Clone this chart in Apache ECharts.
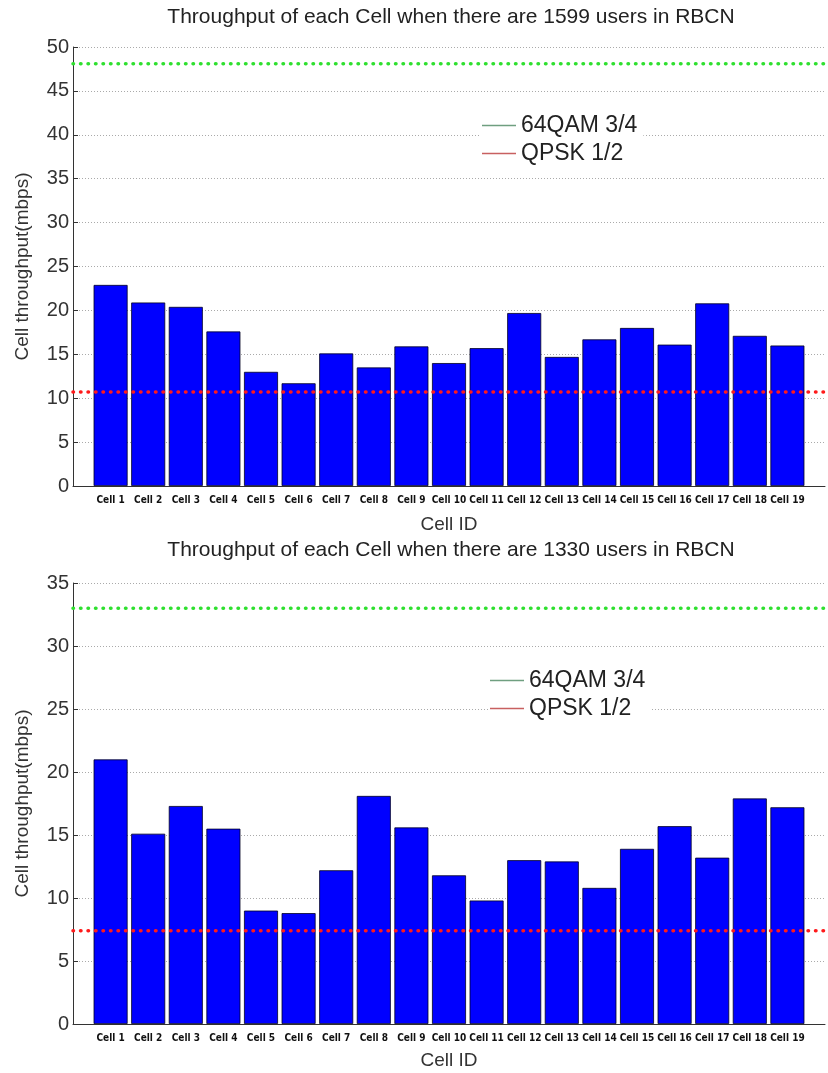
<!DOCTYPE html>
<html>
<head>
<meta charset="utf-8">
<script src="https://cdn.jsdelivr.net/npm/echarts@6/dist/echarts.min.js"></script>
<style>
html,body{margin:0;padding:0;background:#fff;}
#chart{width:828px;height:1073px;}
</style>
</head>
<body>
<div id="chart"></div>
<script>
const categories = ['Cell 1','Cell 2','Cell 3','Cell 4','Cell 5','Cell 6','Cell 7','Cell 8','Cell 9','Cell 10','Cell 11','Cell 12','Cell 13','Cell 14','Cell 15','Cell 16','Cell 17','Cell 18','Cell 19'];
const throughput1599 = [22.9,20.9,20.4,17.6,13.0,11.7,15.1,13.5,15.9,14.0,15.7,19.7,14.7,16.7,18.0,16.1,20.8,17.1,16.0];
const throughput1330 = [21.0,15.1,17.3,15.5,9.0,8.8,12.2,18.1,15.6,11.8,9.8,13.0,12.9,10.8,13.9,15.7,13.2,17.9,17.2];
const qam64Level = [48.1, 33.0];
const qpskLevel = [10.7, 7.4];
const titles = ['Throughput of each Cell when there are 1599 users in RBCN','Throughput of each Cell when there are 1330 users in RBCN'];
const yMax = [50, 35];
const yTicks = [5, 5];
const legendNames = ['64QAM 3/4','QPSK 1/2'];

const font = 'Liberation Sans, Arial, sans-serif';
const grids = [
  {left:73, right:-3, top:47, height:439},
  {left:73, right:-3, top:583, height:441}
];
function xAxis(i, nameGap){
  return {
    type:'value', gridIndex:i, min:0, max:categories.length+1, interval:1,
    name:'Cell ID', nameLocation:'middle', nameGap:nameGap,
    nameTextStyle:{fontFamily:font, fontSize:19, color:'#333'},
    axisLine:{show:true, onZero:false, lineStyle:{color:'#333', width:1}},
    axisTick:{show:false},
    splitLine:{show:false},
    axisLabel:{
      margin:9, fontFamily:'Liberation Sans Narrow, DejaVu Sans Condensed, sans-serif', fontWeight:'bold', fontSize:10, color:'#111',
      formatter:function(v){ return (v>=1 && v<=categories.length) ? categories[v-1] : ''; }
    }
  };
}
function yAxis(i){
  return {
    type:'value', gridIndex:i, min:0, max:yMax[i], interval:yTicks[i],
    name:'Cell throughput(mbps)', nameLocation:'middle', nameGap:41,
    nameTextStyle:{fontFamily:font, fontSize:19, color:'#333'},
    axisLine:{show:true, lineStyle:{color:'#333', width:1}},
    axisTick:{show:true, inside:true, length:5, lineStyle:{color:'#333'}},
    axisLabel:{margin:4, fontFamily:font, fontSize:20, color:'#333'},
    splitLine:{show:true, lineStyle:{color:'#aaa', width:1, type:[1,2]}}
  };
}
function barSeries(i, vals){
  return {
    type:'bar', xAxisIndex:i, yAxisIndex:i, barWidth:34,
    data: vals.map((v,k)=>[k+1, v]),
    itemStyle:{color:'#0000ff', borderColor:'#000022', borderWidth:0.8},
    silent:true, z:2
  };
}
function levelSeries(i, name, v, color){
  return {
    type:'line', name:name, xAxisIndex:i, yAxisIndex:i, symbol:'none',
    data:[[0, v],[categories.length+1, v]],
    lineStyle:{color:color, width:3.5, type:[0.5,7], cap:'round'},
    itemStyle:{color:color},
    silent:true, z:3
  };
}
function legend(left, top){
  return {
    orient:'vertical', left:left, top:top, padding:[2,6,2,2], itemGap:5,
    backgroundColor:'#fff', icon:'rect', itemWidth:34, itemHeight:1.5,
    textStyle:{fontFamily:font, fontSize:23, color:'#222', lineHeight:23},
    selectedMode:false,
    data:[{name:legendNames[0], itemStyle:{color:'#6f9f80'}},{name:legendNames[1], itemStyle:{color:'#c86060'}}]
  };
}

const chart = echarts.init(document.getElementById('chart'));
chart.setOption({
  animation:false,
  backgroundColor:'#fff',
  title:[
    {text:titles[0], left:451, top:7, padding:0, textAlign:'center', textStyle:{fontFamily:font, fontSize:21, fontWeight:'normal', color:'#222'}},
    {text:titles[1], left:451, top:540, padding:0, textAlign:'center', textStyle:{fontFamily:font, fontSize:21, fontWeight:'normal', color:'#222'}}
  ],
  legend:[legend(480, 112), legend(488, 667)],
  grid:grids,
  xAxis:[xAxis(0,29), xAxis(1,27)],
  yAxis:[yAxis(0), yAxis(1)],
  series:[
    barSeries(0, throughput1599),
    levelSeries(0, legendNames[0], qam64Level[0], '#2fe02f'),
    levelSeries(0, legendNames[1], qpskLevel[0], '#ff1a1a'),
    barSeries(1, throughput1330),
    levelSeries(1, legendNames[0], qam64Level[1], '#2fe02f'),
    levelSeries(1, legendNames[1], qpskLevel[1], '#ff1a1a')
  ]
});
</script>
</body>
</html>
